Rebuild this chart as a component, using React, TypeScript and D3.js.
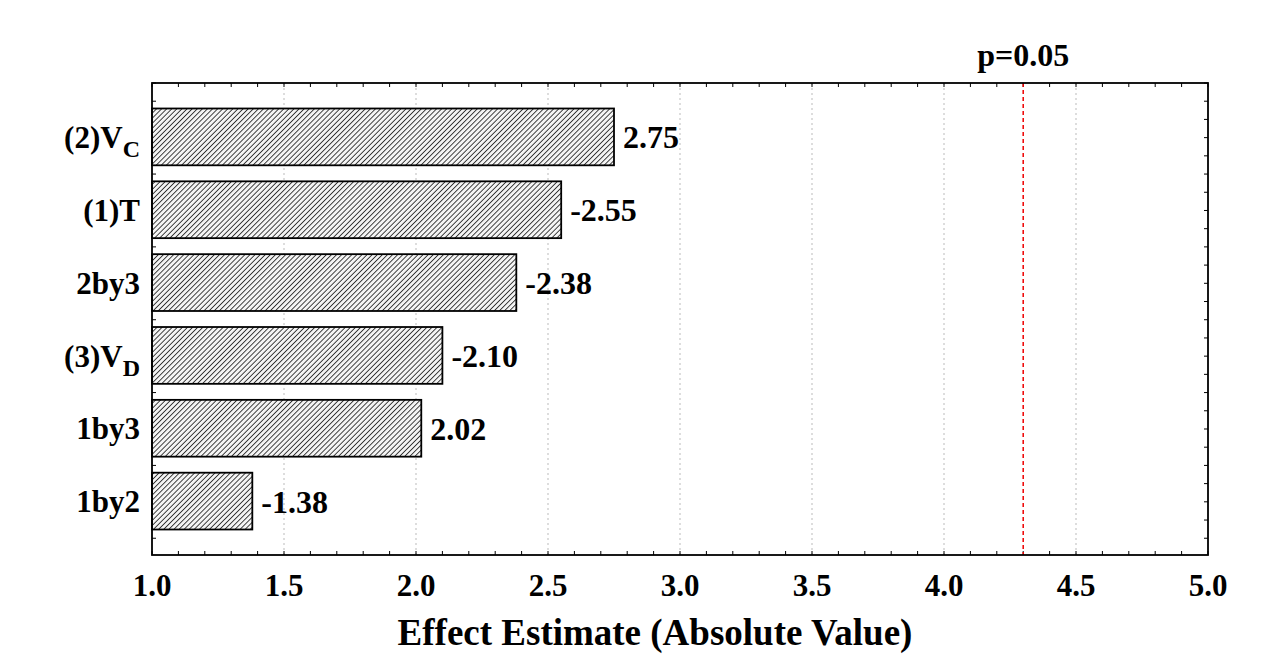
import React from "react";
import * as d3 from "d3";

// effect names (top to bottom), with optional subscript
const factors = ["(2)V", "(1)T", "2by3", "(3)V", "1by3", "1by2"];
const subscripts = ["C", "", "", "D", "", ""];
const effects = [2.75, -2.55, -2.38, -2.1, 2.02, -1.38];
const xTicks = [1.0, 1.5, 2.0, 2.5, 3.0, 3.5, 4.0, 4.5, 5.0];
const pLimit = 4.3;

const W = 1273;
const H = 658;
const margin = { top: 83, right: 65, bottom: 103, left: 152 };
const font = "'Liberation Serif', 'Times New Roman', serif";

export default function App() {
  const x = d3.scaleLinear().domain([1, 5]).range([margin.left, W - margin.right]);
  const y = d3
    .scaleBand<string>()
    .domain(factors)
    .range([margin.top, H - margin.bottom])
    .paddingInner(0.22)
    .paddingOuter(0.35);

  const top = margin.top;
  const bottom = H - margin.bottom;
  const left = margin.left;
  const right = W - margin.right;

  const minor = d3.range(1, 5.0001, 0.1);
  const yMinor = d3.range(0, factors.length * 4 + 3).map((i) => top + (i * y.step()) / 4);

  return (
    <div style={{ position: "absolute", left: 0, top: 0 }}>
      <svg width={W} height={H} style={{ display: "block", background: "#fff" }}>
        <defs>
          <pattern id="hatch" width="3.6" height="3.6" patternUnits="userSpaceOnUse" patternTransform="rotate(45)">
            <rect width="3.6" height="3.6" fill="#f4f4f4" />
            <line x1="0" y1="0" x2="0" y2="3.6" stroke="#222" strokeWidth="1.7" />
          </pattern>
        </defs>

        {/* grid */}
        {xTicks.slice(1, -1).map((t) => (
          <line key={t} x1={x(t)} x2={x(t)} y1={top} y2={bottom} stroke="#bbb" strokeWidth={1} strokeDasharray="2,3" />
        ))}

        {/* minor ticks */}
        {minor.map((t, i) => (
          <g key={"m" + i} stroke="#000" strokeWidth={1}>
            <line x1={x(t)} x2={x(t)} y1={bottom} y2={bottom - 4} />
            <line x1={x(t)} x2={x(t)} y1={top} y2={top + 4} />
          </g>
        ))}
        {yMinor.filter((v) => v < bottom).map((v, i) => (
          <g key={"ym" + i} stroke="#000" strokeWidth={1}>
            <line x1={left} x2={left + 4} y1={v} y2={v} />
            <line x1={right} x2={right - 4} y1={v} y2={v} />
          </g>
        ))}

        {/* bars */}
        {factors.map((f, i) => (
          <g key={f}>
            <rect
              x={x(1)}
              y={y(f)}
              width={x(Math.abs(effects[i])) - x(1)}
              height={y.bandwidth()}
              fill="url(#hatch)"
              stroke="#000"
              strokeWidth={1.8}
            />
            <text
              x={x(Math.abs(effects[i])) + 9}
              y={(y(f) ?? 0) + y.bandwidth() / 2}
              dy="0.36em"
              fontFamily={font}
              fontWeight="bold"
              fontSize={32}
            >
              {effects[i].toFixed(2)}
            </text>
            <text
              x={left - 12}
              y={(y(f) ?? 0) + y.bandwidth() / 2}
              dy="0.36em"
              textAnchor="end"
              fontFamily={font}
              fontWeight="bold"
              fontSize={31}
            >
              {f}
              {subscripts[i] && (
                <tspan fontSize={24} dy="9">
                  {subscripts[i]}
                </tspan>
              )}
            </text>
          </g>
        ))}

        {/* p line */}
        <line x1={x(pLimit)} x2={x(pLimit)} y1={top} y2={bottom} stroke="#e00" strokeWidth={1.5} strokeDasharray="4,3" />
        <text x={x(pLimit)} y={66} textAnchor="middle" fontFamily={font} fontWeight="bold" fontSize={32}>
          p=0.05
        </text>

        {/* frame */}
        <rect x={left} y={top} width={right - left} height={bottom - top} fill="none" stroke="#000" strokeWidth={1.8} />

        {/* x tick labels */}
        {xTicks.map((t) => (
          <text key={"t" + t} x={x(t)} y={596} textAnchor="middle" fontFamily={font} fontWeight="bold" fontSize={31}>
            {t.toFixed(1)}
          </text>
        ))}
        <text x={655} y={645} textAnchor="middle" fontFamily={font} fontWeight="bold" fontSize={37}>
          Effect Estimate (Absolute Value)
        </text>
      </svg>
    </div>
  );
}
